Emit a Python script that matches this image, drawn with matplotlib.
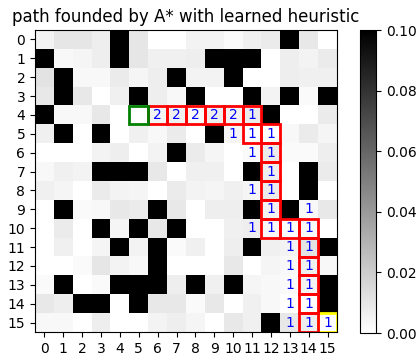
import numpy as np
import matplotlib
matplotlib.use("Agg")
from matplotlib import pyplot as plt
from matplotlib.patches import Rectangle


# ───────── DATA ───────── #
# cell cost, in thousandths (100 = obstacle, shown black)
cell_values = [
    [5, 10, 10, 7, 100, 10, 0, 0, 5, 5, 2, 6, 8, 100, 9, 0],
    [100, 3, 4, 7, 100, 10, 6, 6, 7, 100, 100, 100, 0, 7, 5, 8],
    [11, 100, 3, 3, 8, 4, 7, 100, 5, 5, 100, 0, 0, 7, 6, 6],
    [9, 100, 9, 0, 6, 100, 7, 3, 100, 0, 0, 100, 5, 100, 2, 100],
    [100, 3, 3, 9, 0, 0, 5, 6, 2, 7, 5, 8, 100, 0, 0, 8],
    [6, 100, 0, 100, 0, 6, 3, 8, 0, 100, 4, 0, 0, 3, 8, 4],
    [0, 0, 0, 5, 7, 0, 5, 100, 8, 4, 0, 2, 8, 2, 2, 7],
    [3, 6, 5, 100, 100, 100, 9, 0, 6, 6, 0, 100, 7, 0, 100, 8],
    [6, 4, 0, 8, 5, 4, 0, 8, 5, 4, 6, 4, 8, 0, 100, 0],
    [0, 100, 2, 3, 9, 8, 100, 9, 0, 7, 7, 100, 5, 100, 3, 9],
    [0, 8, 0, 100, 4, 100, 9, 100, 0, 0, 6, 7, 3, 2, 3, 0],
    [0, 6, 0, 4, 100, 5, 100, 2, 6, 0, 7, 100, 6, 5, 11, 100],
    [0, 0, 2, 10, 5, 3, 100, 0, 0, 0, 9, 0, 4, 3, 6, 3],
    [2, 100, 0, 2, 100, 100, 100, 7, 100, 6, 100, 4, 3, 2, 5, 100],
    [9, 7, 100, 100, 0, 100, 9, 9, 2, 9, 0, 6, 3, 0, 0, 100],
    [3, 3, 0, 7, 0, 0, 5, 7, 4, 0, 9, 6, 100, 9, 7, 0],
]

# heuristic values written on expanded cells
label_rows = [4, 4, 4, 4, 4, 4, 5, 5, 5, 6, 6, 7, 8, 8, 9, 9,
              10, 10, 10, 10, 11, 11, 12, 12, 13, 13, 14, 14, 15, 15, 15]
label_cols = [6, 7, 8, 9, 10, 11, 10, 11, 12, 11, 12, 12, 11, 12, 12, 14,
              11, 12, 13, 14, 13, 14, 13, 14, 13, 14, 13, 14, 13, 14, 15]
label_text = ["2", "2", "2", "2", "2", "1", "1", "1", "1", "1", "1", "1", "1", "1", "1", "1",
              "1", "1", "1", "1", "1", "1", "1", "1", "1", "1", "1", "1", "1", "1", "1"]

start = (4, 5)
goal = (15, 15)
path = [(4, 6), (4, 7), (4, 8), (4, 9), (4, 10), (4, 11), (5, 11), (5, 12),
        (6, 12), (7, 12), (8, 12), (9, 12), (10, 12), (10, 13), (10, 14),
        (11, 14), (12, 14), (13, 14), (14, 14), (15, 14)]
# ──────────────────────── #


def mark_cell(ax, cell, color):
    r, c = cell
    ax.add_patch(Rectangle((c - 0.5, r - 0.5), 1, 1, fill=False,
                           edgecolor=color, linewidth=2))


grid = np.array(cell_values) / 1000.0
n = grid.shape[0]

fig = plt.figure(figsize=(4.17, 3.58), dpi=100)
ax = fig.add_axes([0.0839, 0.0726, 0.7242, 0.8436])
cax = fig.add_axes([0.8633, 0.0698, 0.0384, 0.8464])

im = ax.imshow(grid, cmap="gray_r", vmin=0, vmax=0.1, interpolation="nearest")
fig.colorbar(im, cax=cax, ticks=[0.0, 0.02, 0.04, 0.06, 0.08, 0.10])
cax.yaxis.set_major_formatter(matplotlib.ticker.FormatStrFormatter("%.2f"))

for r, c, t in zip(label_rows, label_cols, label_text):
    ax.text(c, r, t, color="blue", ha="center", va="center", fontsize=10)

mark_cell(ax, goal, "yellow")
for cell in path:
    mark_cell(ax, cell, "red")
mark_cell(ax, start, "green")

ax.set_xticks(range(n))
ax.set_yticks(range(n))
ax.set_xlim(-0.5, n - 0.5)
ax.set_ylim(n - 0.5, -0.5)
ax.set_title("path founded by A* with learned heuristic")

plt.savefig("out.png")
